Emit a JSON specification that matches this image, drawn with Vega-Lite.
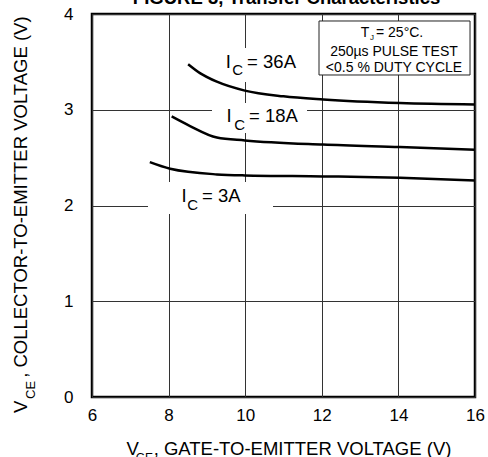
{
  "$schema": "https://vega.github.io/schema/vega-lite/v6.json",
  "width": 383,
  "height": 383,
  "autosize": "none",
  "padding": {"left": 92, "top": 14, "right": 13, "bottom": 60},
  "background": "white",
  "config": {
    "view": {"stroke": "black", "strokeWidth": 2.5},
    "font": "Liberation Sans",
    "axis": {
      "labelFont": "Liberation Sans",
      "labelFontSize": 17,
      "labelColor": "black",
      "gridColor": "#333",
      "gridWidth": 1,
      "gridOpacity": 1,
      "ticks": false,
      "tickSize": 0,
      "domain": false,
      "title": null
    }
  },
  "datasets": {
    "curves": [
      {"series": "36A", "vge": 8.51, "vce": 3.476},
      {"series": "36A", "vge": 8.83, "vce": 3.38},
      {"series": "36A", "vge": 9.26, "vce": 3.293},
      {"series": "36A", "vge": 9.99, "vce": 3.2},
      {"series": "36A", "vge": 11.0, "vce": 3.14},
      {"series": "36A", "vge": 12.04, "vce": 3.107},
      {"series": "36A", "vge": 14.04, "vce": 3.07},
      {"series": "36A", "vge": 16.0, "vce": 3.055},
      {"series": "18A", "vge": 8.08, "vce": 2.93},
      {"series": "18A", "vge": 8.56, "vce": 2.83},
      {"series": "18A", "vge": 9.26, "vce": 2.71},
      {"series": "18A", "vge": 9.99, "vce": 2.68},
      {"series": "18A", "vge": 12.03, "vce": 2.636},
      {"series": "18A", "vge": 14.04, "vce": 2.61},
      {"series": "18A", "vge": 16.0, "vce": 2.583},
      {"series": "3A", "vge": 7.51, "vce": 2.453},
      {"series": "3A", "vge": 8.04, "vce": 2.384},
      {"series": "3A", "vge": 9.26, "vce": 2.325},
      {"series": "3A", "vge": 9.99, "vce": 2.314},
      {"series": "3A", "vge": 12.03, "vce": 2.304},
      {"series": "3A", "vge": 14.04, "vce": 2.29},
      {"series": "3A", "vge": 16.0, "vce": 2.262}
    ],
    "labelBoxes": [
      {"x1": 9.081, "x2": 11.431, "y1": 3.645, "y2": 3.29},
      {"x1": 9.133, "x2": 11.614, "y1": 3.071, "y2": 2.757},
      {"x1": 7.462, "x2": 10.726, "y1": 2.245, "y2": 1.911}
    ],
    "noteBox": [
      {"x1": 11.927, "x2": 15.87, "y1": 3.927, "y2": 3.363}
    ],
    "mainText": [
      {"x": 9.49, "y": 3.436, "t": "I"},
      {"x": 10.05, "y": 3.436, "t": "= 36A"},
      {"x": 9.515, "y": 2.872, "t": "I"},
      {"x": 10.1, "y": 2.872, "t": "= 18A"},
      {"x": 8.34, "y": 2.037, "t": "I"},
      {"x": 8.875, "y": 2.037, "t": "= 3A"},
      {"x": 6.9, "y": -0.606, "t": "V"},
      {"x": 7.61, "y": -0.606, "t": ", GATE-TO-EMITTER VOLTAGE (V)"}
    ],
    "subText": [
      {"x": 9.662, "y": 3.363, "t": "C"},
      {"x": 9.715, "y": 2.789, "t": "C"},
      {"x": 8.488, "y": 1.953, "t": "C"}
    ],
    "xTitleSub": [
      {"x": 7.14, "y": -0.68, "t": "GE"}
    ],
    "yTitleMain": [
      {"x": 4.303, "y": -0.167, "t": "V"},
      {"x": 4.303, "y": 0.2, "t": ", COLLECTOR-TO-EMITTER VOLTAGE (V)"}
    ],
    "yTitleSub": [
      {"x": 4.5, "y": -0.02, "t": "CE"}
    ],
    "noteLines": [
      {"x": 13.885, "y": 3.561, "t": "250µs PULSE TEST"},
      {"x": 13.885, "y": 3.394, "t": "<0.5 % DUTY CYCLE"}
    ],
    "noteLine1": [
      {"x": 13.02, "y": 3.755, "t": "T"},
      {"x": 13.415, "y": 3.755, "t": "= 25°C."}
    ],
    "noteSub": [
      {"x": 13.26, "y": 3.728, "t": "J"}
    ],
    "title": [
      {"x": 11.08, "y": 4.104, "t": "FIGURE 3, Transfer Characteristics"}
    ]
  },
  "layer": [
    {
      "data": {"name": "labelBoxes"},
      "mark": {"type": "rect", "fill": "white", "stroke": null},
      "encoding": {
        "x": {"field": "x1", "type": "quantitative", "scale": {"domain": [6, 16], "nice": false, "zero": false},
              "axis": {"values": [6, 8, 10, 12, 14, 16], "format": "d", "labelPadding": 10, "labelFlush": false, "grid": true}},
        "x2": {"field": "x2"},
        "y": {"field": "y1", "type": "quantitative", "scale": {"domain": [0, 4], "nice": false},
              "axis": {"values": [0, 1, 2, 3, 4], "format": "d", "labelPadding": 19, "grid": true}},
        "y2": {"field": "y2"}
      }
    },
    {
      "data": {"name": "noteBox"},
      "mark": {"type": "rect", "fill": "white", "stroke": "#222", "strokeWidth": 1},
      "encoding": {
        "x": {"field": "x1", "type": "quantitative"},
        "x2": {"field": "x2"},
        "y": {"field": "y1", "type": "quantitative"},
        "y2": {"field": "y2"}
      }
    },
    {
      "data": {"name": "curves"},
      "mark": {"type": "line", "color": "black", "strokeWidth": 2.5, "interpolate": "monotone"},
      "encoding": {
        "x": {"field": "vge", "type": "quantitative"},
        "y": {"field": "vce", "type": "quantitative"},
        "detail": {"field": "series"}
      }
    },
    {
      "data": {"name": "mainText"},
      "mark": {"type": "text", "align": "left", "baseline": "alphabetic", "fontSize": 18.5, "font": "Liberation Sans", "color": "black", "clip": false},
      "encoding": {
        "x": {"field": "x", "type": "quantitative"},
        "y": {"field": "y", "type": "quantitative"},
        "text": {"field": "t"}
      }
    },
    {
      "data": {"name": "subText"},
      "mark": {"type": "text", "align": "left", "baseline": "alphabetic", "fontSize": 15, "font": "Liberation Sans", "color": "black", "clip": false},
      "encoding": {
        "x": {"field": "x", "type": "quantitative"},
        "y": {"field": "y", "type": "quantitative"},
        "text": {"field": "t"}
      }
    },
    {
      "data": {"name": "xTitleSub"},
      "mark": {"type": "text", "align": "left", "baseline": "alphabetic", "fontSize": 12, "font": "Liberation Sans", "color": "black", "clip": false},
      "encoding": {
        "x": {"field": "x", "type": "quantitative"},
        "y": {"field": "y", "type": "quantitative"},
        "text": {"field": "t"}
      }
    },
    {
      "data": {"name": "yTitleMain"},
      "mark": {"type": "text", "align": "left", "baseline": "alphabetic", "angle": 270, "fontSize": 18.5, "font": "Liberation Sans", "color": "black", "clip": false},
      "encoding": {
        "x": {"field": "x", "type": "quantitative"},
        "y": {"field": "y", "type": "quantitative"},
        "text": {"field": "t"}
      }
    },
    {
      "data": {"name": "yTitleSub"},
      "mark": {"type": "text", "align": "left", "baseline": "alphabetic", "angle": 270, "fontSize": 13, "font": "Liberation Sans", "color": "black", "clip": false},
      "encoding": {
        "x": {"field": "x", "type": "quantitative"},
        "y": {"field": "y", "type": "quantitative"},
        "text": {"field": "t"}
      }
    },
    {
      "data": {"name": "noteLines"},
      "mark": {"type": "text", "align": "center", "baseline": "alphabetic", "fontSize": 14, "font": "Liberation Sans", "color": "black"},
      "encoding": {
        "x": {"field": "x", "type": "quantitative"},
        "y": {"field": "y", "type": "quantitative"},
        "text": {"field": "t"}
      }
    },
    {
      "data": {"name": "noteLine1"},
      "mark": {"type": "text", "align": "left", "baseline": "alphabetic", "fontSize": 14, "font": "Liberation Sans", "color": "black"},
      "encoding": {
        "x": {"field": "x", "type": "quantitative"},
        "y": {"field": "y", "type": "quantitative"},
        "text": {"field": "t"}
      }
    },
    {
      "data": {"name": "noteSub"},
      "mark": {"type": "text", "align": "left", "baseline": "alphabetic", "fontSize": 8, "font": "Liberation Sans", "color": "black"},
      "encoding": {
        "x": {"field": "x", "type": "quantitative"},
        "y": {"field": "y", "type": "quantitative"},
        "text": {"field": "t"}
      }
    },
    {
      "data": {"name": "title"},
      "mark": {"type": "text", "align": "center", "baseline": "alphabetic", "fontSize": 18.5, "fontWeight": "bold", "font": "Liberation Sans", "color": "black", "clip": false},
      "encoding": {
        "x": {"field": "x", "type": "quantitative"},
        "y": {"field": "y", "type": "quantitative"},
        "text": {"field": "t"}
      }
    }
  ]
}
